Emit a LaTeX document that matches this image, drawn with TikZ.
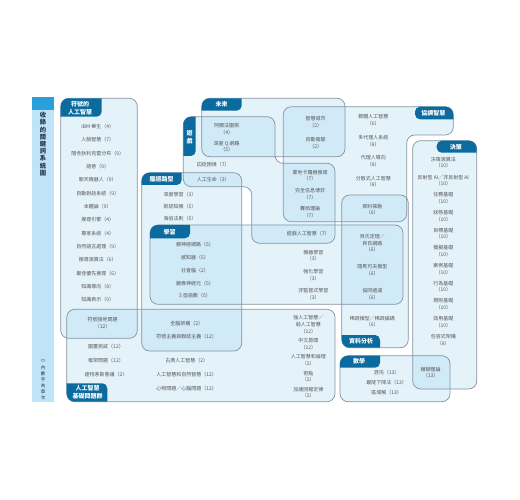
\documentclass[tikz,border=0pt]{standalone}
\usepackage{fontspec}
\newfontfamily\cjk{Noto Sans CJK TC}
\definecolor{boxfill}{HTML}{A6D6F0}
\definecolor{boxline}{HTML}{8293A0}
\definecolor{tabblue}{HTML}{0B6A9E}
\definecolor{sidelight}{HTML}{BFE4F7}
\definecolor{sidedark}{HTML}{2AA0DA}
\definecolor{wordgray}{HTML}{555555}
\definecolor{titlenavy}{HTML}{23384D}
% region outlines
\newcommand\rgnSymbolic{(60.7,98.3) rectangle (137.3,338.3)}
\newcommand\rgnBasic{(66.7,309.3) rectangle (335,401.7)}
\newcommand\rgnBrain{(141.7,172.7) rectangle (241.7,351)}
\newcommand\rgnLearn{(150,225) rectangle (403,304.3)}
\newcommand\rgnFuture{(201.7,98.3) rectangle (345,156.7)}
\newcommand\rgnGame{(183.3,116.7) -- (275,116.7) -- (275,163.3) -- (335,163.3) -- (335,243.3) -- (251.7,243.3) -- (251.7,186.7) -- (183.3,186.7) -- cycle}
\newcommand\rgnCoord{(283.3,106.7) -- (453.3,106.7) -- (453.3,135) -- (406.7,135) -- (406.7,221.7) -- (283.3,221.7) -- cycle}
\newcommand\rgnData{(341.7,195) rectangle (408.3,347.7)}
\newcommand\rgnDecide{(412.7,140.7) rectangle (476.7,389)}
\newcommand\rgnMath{(340,355.7) rectangle (450,401.7)}
\tikzset{
  regionfill/.style={fill=boxfill, fill opacity=0.3, rounded corners=8pt},
  regionline/.style={draw=boxline, line width=0.7pt, rounded corners=8pt},
  tabfill/.style={fill=tabblue, rounded corners=5pt},
  word/.style={font=\cjk\fontsize{5}{6.7}\selectfont, text=wordgray, align=center, inner sep=0pt},
  tabtext/.style={font=\cjk\bfseries\fontsize{6}{7.6}\selectfont, text=white, align=center, inner sep=0pt},
}
\begin{document}
\begin{tikzpicture}[x=1pt,y=-1pt]
\useasboundingbox (0,0) rectangle (520,500);
% side bar
\fill[sidelight] (32,97) rectangle (54,402);
\fill[sidedark] (32,97) rectangle (54,110);
\node[font=\cjk\bfseries\fontsize{6.3}{7.2}\selectfont, text=titlenavy, align=center, inner sep=0pt] (title) at (43,144.2) {收\\錄\\的\\關\\鍵\\詞\\系\\統\\圖};
\node[font=\cjk\fontsize{4.5}{5.9}\selectfont, text=titlenavy, align=center, inner sep=0pt] (note) at (43,378) {\rotatebox{-90}{（）}\\內\\數\\字\\為\\章\\次};

% fills
\fill[regionfill] \rgnSymbolic;
\fill[regionfill] \rgnBasic;
\fill[regionfill] \rgnBrain;
\fill[regionfill] \rgnLearn;
\fill[regionfill] \rgnFuture;
\fill[regionfill] \rgnGame;
\fill[regionfill] \rgnCoord;
\fill[regionfill] \rgnData;
\fill[regionfill] \rgnDecide;
\fill[regionfill] \rgnMath;

% outlines
\draw[regionline] \rgnSymbolic;
\draw[regionline] \rgnBasic;
\draw[regionline] \rgnBrain;
\draw[regionline] \rgnLearn;
\draw[regionline] \rgnFuture;
\draw[regionline] \rgnGame;
\draw[regionline] \rgnCoord;
\draw[regionline] \rgnData;
\draw[regionline] \rgnDecide;
\draw[regionline] \rgnMath;

% tabs
\begin{scope}\clip[rounded corners=8pt] \rgnSymbolic; \fill[tabfill] (50.7,88.3) rectangle (101.7,116.7);\end{scope}
\begin{scope}\clip[rounded corners=8pt] \rgnBasic; \fill[tabfill] (56.7,383.3) rectangle (107.3,411.7);\end{scope}
\begin{scope}\clip[rounded corners=8pt] \rgnFuture; \fill[tabfill] (191.7,88.3) rectangle (241.7,110.7);\end{scope}
\begin{scope}\clip[rounded corners=8pt] \rgnGame; \fill[tabfill] (173.3,106.7) rectangle (195.7,156);\end{scope}
\begin{scope}\clip[rounded corners=8pt] \rgnBrain; \fill[tabfill] (131.7,162.7) rectangle (181.7,185);\end{scope}
\begin{scope}\clip[rounded corners=8pt] \rgnLearn; \fill[tabfill] (140,215) rectangle (190,238.3);\end{scope}
\begin{scope}\clip[rounded corners=8pt] \rgnCoord; \fill[tabfill] (415,106.7) rectangle (463.3,119.3);\end{scope}
\begin{scope}\clip[rounded corners=8pt] \rgnDecide; \fill[tabfill] (436.7,140.7) rectangle (486.7,152.7);\end{scope}
\begin{scope}\clip[rounded corners=8pt] \rgnData; \fill[tabfill] (331.7,335) rectangle (380,357.7);\end{scope}
\begin{scope}\clip[rounded corners=8pt] \rgnMath; \fill[tabfill] (330,345.7) rectangle (380,367.7);\end{scope}

\node[tabtext] (tsym) at (80,108) {符號的\\人工智慧};
\node[tabtext] (tbasic) at (87.5,392.2) {人工智慧\\基礎問題群};
\node[tabtext] (tfuture) at (221.7,104.6) {未來};
\node[tabtext] (tgame) at (189.5,137) {遊\\戲};
\node[tabtext] (tbrain) at (161.7,179) {腦迴路型};
\node[tabtext] (tlearn) at (169.7,231.8) {學習};
\node[tabtext] (tcoord) at (433.3,113.2) {協調智慧};
\node[tabtext] (tdecide) at (455.8,146.7) {決策};
\node[tabtext] (tdata) at (361,341.3) {資料分析};
\node[tabtext] (tmath) at (359,361.7) {數學};

% symbolic AI
\node[word] (sa) at (97.7,126.7) {IBM 華生（4）};
\node[word] (sb) at (97.7,140) {人臉智慧（7）};
\node[word] (sc) at (97.7,153.3) {隱含狄利克雷分布（9）};
\node[word] (sd) at (97.7,166.7) {語意（9）};
\node[word] (se) at (97.7,180) {聊天機器人（9）};
\node[word] (sf) at (97.7,193.3) {自動對話系統（9）};
\node[word] (sg) at (97.7,206.7) {本體論（9）};
\node[word] (sh) at (97.7,220) {搜尋引擎（4）};
\node[word] (si) at (97.7,233.3) {專家系統（4）};
\node[word] (sj) at (97.7,246.7) {自然語言處理（9）};
\node[word] (sk) at (97.7,260) {搜尋演算法（6）};
\node[word] (sl) at (97.7,273.3) {最佳優先搜尋（6）};
\node[word] (sm) at (97.7,286.7) {知識導向（8）};
\node[word] (sn) at (97.7,300) {知識表示（9）};
\node[word] (ground) at (102.7,323.3) {符號接地問題\\（12）};

% basic problems
\node[word] (turing) at (106,346.7) {圖靈測試（12）};
\node[word] (frame) at (106,360.7) {框架問題（12）};
\node[word] (dart) at (106,374.3) {達特茅斯會議（2）};
\node[word] (classic) at (186.7,361) {古典人工智慧（2）};
\node[word] (natural) at (186.7,374.7) {人工智慧和自然智慧（12）};
\node[word] (mind) at (186.7,388.7) {心物問題／心腦問題（12）};
\node[word] (strong) at (308.3,324.5) {強人工智慧／\\弱人工智慧\\（12）};
\node[word] (chinese) at (308.3,344) {中文房間\\（12）};
\node[word] (ethics) at (308.3,360.3) {人工智慧和倫理\\（2）};
\node[word] (sing) at (308.3,376.7) {奇點\\（2）};
\node[word] (accel) at (308.3,392.7) {加速回報定律\\（2）};

% brain
\node[word] (deep) at (180,195) {深度學習（3）};
\node[word] (neoc) at (180,206.7) {新認知機（5）};
\node[word] (hebb) at (180,218.3) {海伯法則（5）};
\node[word] (nn) at (195,245) {類神經網路（5）};
\node[word] (perc) at (195,257.7) {感知器（5）};
\node[word] (soc) at (195,270.3) {社會腦（2）};
\node[word] (mirror) at (195,283.3) {鏡像神經元（5）};
\node[word] (sig) at (195,296) {S 型函數（5）};
\node[word] (wba) at (186.7,324) {全腦架構（2）};
\node[word] (symcon) at (186.7,336.7) {符號主義與聯結主義（12）};

% game and future
\node[word] (alpha) at (226.7,129) {阿爾法圍棋\\（4）};
\node[word] (dqn) at (226.7,146.5) {深度 Q 網路\\（5）};
\node[word] (prison) at (213.3,165) {囚徒困境（7）};
\node[word] (alife) at (213.3,180) {人工生命（3）};
\node[word] (city) at (315.7,122) {智慧城市\\（2）};
\node[word] (drive) at (315.7,143.3) {自動駕駛\\（2）};
\node[word] (mcts) at (310,175.5) {蒙地卡羅樹搜尋\\（7）};
\node[word] (perfect) at (310,193.8) {完全信息博弈\\（7）};
\node[word] (gamet) at (310,212.3) {賽局理論\\（7）};
\node[word] (gameai) at (308.3,234) {遊戲人工智慧（7）};

% coordination
\node[word] (swarm) at (373.3,120.2) {群體人工智慧\\（6）};
\node[word] (multi) at (373.3,141) {多代理人系統\\（8）};
\node[word] (agent) at (373.3,161.2) {代理人導向\\（8）};
\node[word] (dai) at (373.3,181.7) {分散式人工智慧\\（8）};

% learning and data
\node[word] (ml) at (313.3,255.7) {機器學習\\（3）};
\node[word] (rl) at (313.3,275) {強化學習\\（3）};
\node[word] (ul) at (313.3,294.3) {非監督式學習\\（3）};
\node[word] (mining) at (372.3,209.7) {資料探勘\\（6）};
\node[word] (bayes) at (372.3,243.3) {貝氏定理／\\貝氏網路\\（6）};
\node[word] (hmm) at (372.3,270) {隱馬可夫模型\\（6）};
\node[word] (cf) at (372.3,294) {協同過濾\\（6）};
\node[word] (sparse) at (372.3,321.5) {稀疏模型／稀疏編碼\\（6）};

% decision
\node[word] (dalg) at (443.3,162.7) {決策演算法\\（10）};
\node[word] (reflex) at (443.3,180.7) {反射型 AI／非反射型 AI\\（10）};
\node[word] (task) at (443.3,198.3) {任務基礎\\（10）};
\node[word] (state) at (443.3,216) {狀態基礎\\（10）};
\node[word] (goal) at (443.3,233.7) {目標基礎\\（10）};
\node[word] (sim) at (443.3,251.3) {模擬基礎\\（10）};
\node[word] (case) at (443.3,269) {案例基礎\\（10）};
\node[word] (behav) at (443.3,286.7) {行為基礎\\（10）};
\node[word] (rule) at (443.3,304.3) {規則基礎\\（10）};
\node[word] (util) at (443.3,322.3) {效用基礎\\（10）};
\node[word] (subsum) at (443.3,340) {包容式架構\\（8）};

% mathematics
\node[word] (chaos) at (386.7,372.3) {混沌（13）};
\node[word] (steep) at (386.7,382.3) {最陡下降法（13）};
\node[word] (local) at (386.7,392.3) {區域解（13）};
\node[word] (fuzzy) at (430.7,372.7) {模糊理論\\（13）};
\end{tikzpicture}
\end{document}
